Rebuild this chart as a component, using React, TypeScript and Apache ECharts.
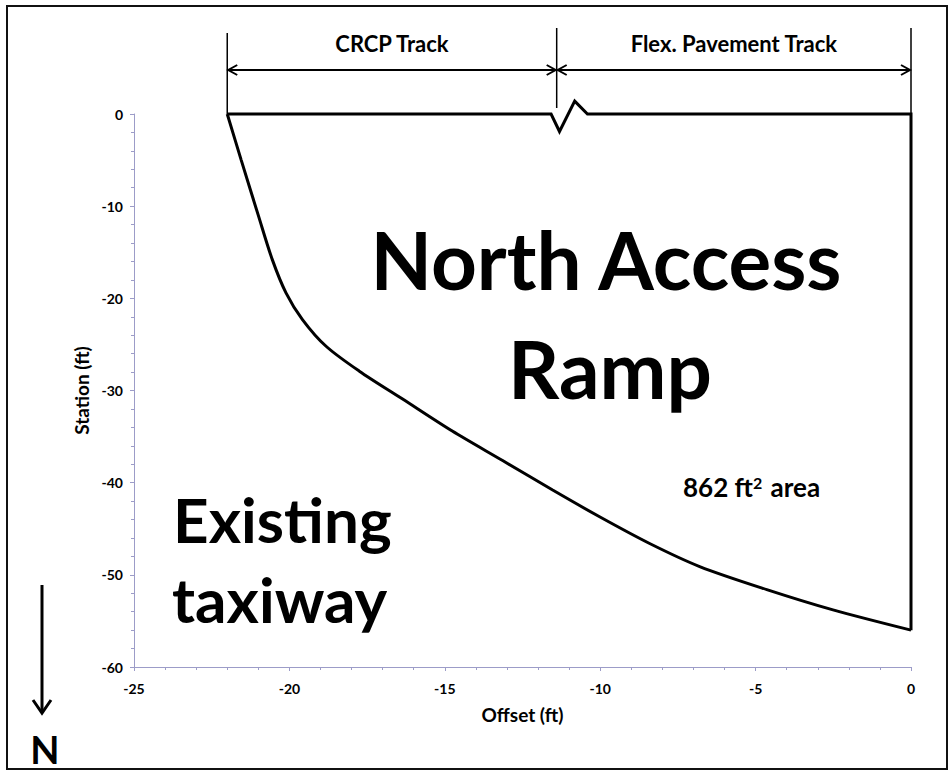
import React, { useEffect, useRef } from 'react';
import * as echarts from 'echarts';

// Straight edges of the North Access Ramp (top edge with break symbol, right edge): offset (ft), station (ft)
const edgeOffset = [-22, -11.58, -11.31, -10.82, -10.41, 0, 0];
const edgeStation = [0, 0, -1.9, 1.4, 0, 0, -56];

// Curved boundary with the existing taxiway: offset (ft), station (ft)
const curveOffset = [0, -2.51, -4.64, -6.8, -8.41, -10.02, -11.53, -13.14, -14.76, -16.37, -17.75, -18.82, -19.58, -20.11, -20.55, -21.0, -21.55, -22];
const curveStation = [-56, -53.8, -51.6, -49.1, -46.6, -43.7, -40.8, -37.6, -34.4, -30.9, -27.9, -25.2, -22.3, -19.4, -15.8, -11.0, -5.0, 0];

// Track limits along the offset axis
const trackBounds = [-22, -11.4, 0];
const trackNames = ['CRCP Track', 'Flex. Pavement Track'];

const xMin = -25, xMax = 0, xInterval = 5;
const yMin = -60, yMax = 0, yInterval = 10;

const FONT = 'Lato, "Open Sans", sans-serif';
const AXIS_COLOR = '#9c9cc8';

export default function App() {
  const ref = useRef<HTMLDivElement>(null);
  useEffect(() => {
    document.body.style.margin = '0';
    const chart = echarts.init(ref.current!, null, { renderer: 'svg' });
    const axisCommon = {
      type: 'value',
      axisLine: { show: true, onZero: false, lineStyle: { color: AXIS_COLOR, width: 1 } },
      axisTick: { show: true, inside: false, length: 4, lineStyle: { color: AXIS_COLOR } },
      minorTick: { show: true, splitNumber: 5, length: 3, lineStyle: { color: AXIS_COLOR } },
      splitLine: { show: false },
      nameLocation: 'middle',
      nameTextStyle: { color: '#000', fontWeight: 'bold', fontSize: 19, fontFamily: FONT },
    };
    const labelStyle = { color: '#000', fontWeight: 'bold', fontSize: 14, fontFamily: FONT };
    chart.setOption({
      animation: false,
      backgroundColor: '#fff',
      grid: { left: 134, right: 39, top: 114, bottom: 106, containLabel: false },
      xAxis: {
        ...axisCommon,
        min: xMin, max: xMax, interval: xInterval,
        axisLabel: { ...labelStyle, margin: 14 },
        name: 'Offset (ft)', nameGap: 38,
      },
      yAxis: {
        ...axisCommon,
        min: yMin, max: yMax, interval: yInterval,
        axisLabel: { ...labelStyle, margin: 11 },
        name: 'Station (ft)', nameGap: 38, nameRotate: 90,
      },
      series: [
        {
          type: 'line',
          data: edgeOffset.map((x, i) => [x, edgeStation[i]]),
          showSymbol: false,
          symbol: 'none',
          clip: false,
          lineStyle: { color: '#000', width: 3, join: 'miter' },
        },
        {
          type: 'line',
          data: curveOffset.map((x, i) => [x, curveStation[i]]),
          showSymbol: false,
          symbol: 'none',
          smooth: 0.3,
          clip: false,
          lineStyle: { color: '#000', width: 3 },
        },
      ],
    });

    const px = (x: number, y: number) => chart.convertToPixel({ gridIndex: 0 }, [x, y]) as number[];
    const y0 = px(0, 0)[1];
    const bx = trackBounds.map((b) => px(b, 0)[0]);
    const arrowY = 70;
    const line = (x1: number, y1: number, x2: number, y2: number, w = 2) => ({
      type: 'line', shape: { x1, y1, x2, y2 }, style: { stroke: '#000', lineWidth: w }, z: 100,
    });
    const head = (x: number, y: number, dir: number) => ({
      type: 'polyline',
      shape: { points: [[x - dir * 9, y - 5], [x, y], [x - dir * 9, y + 5]] },
      style: { stroke: '#000', lineWidth: 2, fill: null }, z: 100,
    });
    const txt = (text: string, x: number, y: number, size: number, align = 'center') => ({
      type: 'text', x, y, z: 100,
      style: { text, fill: '#000', fontSize: size, fontWeight: 'bold', fontFamily: FONT, align, verticalAlign: 'middle' },
    });
    const elements: any[] = [
      { type: 'rect', shape: { x: 7, y: 6, width: 940, height: 763 }, style: { stroke: '#111', lineWidth: 2, fill: null }, z: 100 },
      line(bx[0], 33, bx[0], y0, 1.5),
      line(bx[1], 28, bx[1], y0 - 6, 1.5),
      line(bx[2], 28, bx[2], y0, 1.5),
    ];
    for (let i = 0; i < trackNames.length; i++) {
      const a = bx[i] + 1, b = bx[i + 1] - 1;
      elements.push(line(a, arrowY, b, arrowY, 2));
      elements.push(head(a, arrowY, -1));
      elements.push(head(b, arrowY, 1));
      elements.push(txt(trackNames[i], (bx[i] + bx[i + 1]) / 2, 43, 22));
    }
    elements.push(txt('North Access', 606, 259, 80));
    elements.push(txt('Ramp', 610, 368, 80));
    elements.push(txt('Existing', 173, 519, 62, 'left'));
    elements.push(txt('taxiway', 172, 599, 62, 'left'));
    elements.push({
      type: 'text', x: 683, y: 487, z: 100,
      style: {
        text: '{a|862 ft}{s|2}{a| area}',
        align: 'left', verticalAlign: 'middle',
        rich: {
          a: { fontSize: 26, fontWeight: 'bold', fontFamily: FONT, fill: '#000', color: '#000' },
          s: { fontSize: 16, fontWeight: 'bold', fontFamily: FONT, fill: '#000', color: '#000', verticalAlign: 'top', padding: [0, 2, 0, 0] },
        },
      },
    });
    elements.push(line(42, 585, 42, 712, 3));
    elements.push({
      type: 'polyline', shape: { points: [[33, 700], [42, 713], [51, 700]] },
      style: { stroke: '#000', lineWidth: 3, fill: null }, z: 100,
    });
    elements.push(txt('N', 45, 749, 38));
    chart.setOption({ graphic: elements });
    return () => chart.dispose();
  }, []);
  return <div ref={ref} style={{ width: 950, height: 773 }} />;
}
